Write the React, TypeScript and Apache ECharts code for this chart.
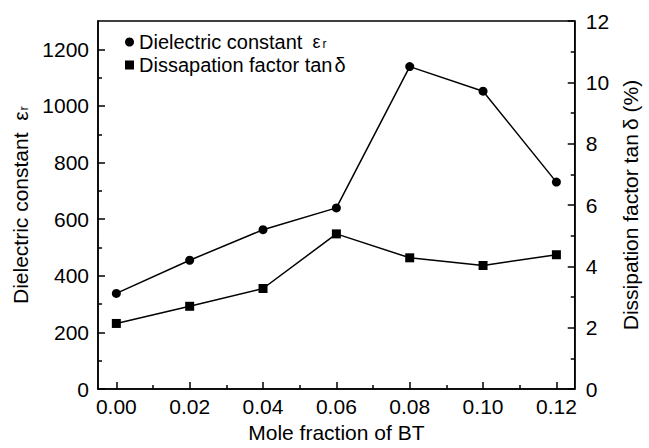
import React, { useEffect, useRef } from "react";
import * as echarts from "echarts";

const xValues = [0, 0.02, 0.04, 0.06, 0.08, 0.1, 0.12];
const dielectric = [338, 455, 563, 640, 1139, 1052, 731];
const dissipation = [2.14, 2.7, 3.28, 5.06, 4.28, 4.03, 4.38];
const xMajorTicks = [0, 0.02, 0.04, 0.06, 0.08, 0.1, 0.12];
const xMinorTicks = [0.01, 0.03, 0.05, 0.07, 0.09, 0.11];
const leftMajorTicks = [0, 200, 400, 600, 800, 1000, 1200];
const leftMinorTicks = [100, 300, 500, 700, 900, 1100];

const FONT = "Liberation Sans";
const FS = 21;

export default function App() {
  const ref = useRef<HTMLDivElement>(null);
  useEffect(() => {
    if (!ref.current) return;
    const chart = echarts.init(ref.current, null, { renderer: "svg" });
    const tickStyle = { color: "#000", width: 1.5 };
    const lineStyle = { color: "#000", width: 1.5 };
    const baseLabel = { color: "#000", fontFamily: FONT, fontSize: FS };
    chart.setOption({
      animation: false,
      backgroundColor: "#fff",
      grid: {
        left: 98,
        right: 63,
        top: 21,
        bottom: 57,
        show: true,
        borderColor: "#000",
        borderWidth: 1.5,
        backgroundColor: "transparent",
      },
      legend: {
        orient: "vertical",
        left: 120,
        top: 27,
        itemWidth: 9,
        itemHeight: 9,
        itemGap: 3,
        textStyle: {
          color: "#000",
          fontFamily: FONT,
          fontSize: 20,
          rich: {
            t: { fontFamily: FONT, fontSize: 20, color: "#000" },
            g: { fontFamily: FONT, fontSize: 18, color: "#000", padding: [0, 0, 0, 10] },
            d: { fontFamily: FONT, fontSize: 20, color: "#000", padding: [0, 0, 0, 2] },
            s: { fontFamily: FONT, fontSize: 12, color: "#000", padding: [4, 0, 0, 2] },
          },
        },
        formatter: (name: string) =>
          name.startsWith("Dielectric")
            ? "{t|Dielectric constant}{g|ε}{s|r}"
            : "{t|Dissapation factor tan}{d|δ}",
        data: [
          { name: "Dielectric constant εr", icon: "circle" },
          { name: "Dissapation factor tanδ", icon: "rect" },
        ],
      },
      xAxis: [
        {
          type: "value",
          min: -0.005,
          max: 0.125,
          name: "Mole fraction of BT",
          nameLocation: "middle",
          nameGap: 29,
          nameTextStyle: { ...baseLabel },
          axisLine: { show: true, onZero: false, lineStyle },
          axisTick: { show: true, inside: true, length: 7, lineStyle: tickStyle, customValues: xMajorTicks },
          axisLabel: {
            ...baseLabel,
            margin: 7,
            customValues: xMajorTicks,
            formatter: (v: number) => v.toFixed(2),
          },
          splitLine: { show: false },
        },
        {
          type: "value",
          min: -0.005,
          max: 0.125,
          position: "bottom",
          axisLine: { show: false, onZero: false },
          axisTick: { show: true, inside: true, length: 4, lineStyle: tickStyle, customValues: xMinorTicks },
          axisLabel: { show: false },
          splitLine: { show: false },
        },
      ],
      yAxis: [
        {
          type: "value",
          min: 0,
          max: 1300,
          position: "left",
          name: "{n|Dielectric constant  ε}{s|r}",
          nameLocation: "middle",
          nameRotate: 90,
          nameGap: 67,
          nameTextStyle: {
            ...baseLabel,
            rich: {
              n: { fontFamily: FONT, fontSize: FS, color: "#000" },
              s: { fontFamily: FONT, fontSize: 13, color: "#000", padding: [6, 0, 0, 1] },
            },
          },
          axisLine: { show: true, onZero: false, lineStyle },
          axisTick: { show: true, inside: true, length: 7, lineStyle: tickStyle, customValues: leftMajorTicks },
          axisLabel: {
            ...baseLabel,
            margin: 9,
            customValues: leftMajorTicks,
            formatter: (v: number) => String(v),
          },
          splitLine: { show: false },
        },
        {
          type: "value",
          min: 0,
          max: 1300,
          position: "left",
          axisLine: { show: false, onZero: false },
          axisTick: { show: true, inside: true, length: 4, lineStyle: tickStyle, customValues: leftMinorTicks },
          axisLabel: { show: false },
          splitLine: { show: false },
        },
        {
          type: "value",
          min: 0,
          max: 12,
          interval: 2,
          position: "right",
          name: "Dissipation factor tan\u2009δ (%)",
          nameLocation: "middle",
          nameRotate: 90,
          nameGap: 42,
          nameTextStyle: { ...baseLabel },
          axisLine: { show: true, onZero: false, lineStyle },
          axisTick: { show: true, inside: true, length: 7, lineStyle: tickStyle },
          minorTick: { show: true, splitNumber: 2, length: 4, lineStyle: tickStyle },
          axisLabel: { ...baseLabel, margin: 11, formatter: (v: number) => String(v) },
          splitLine: { show: false },
          minorSplitLine: { show: false },
        },
      ],
      series: [
        {
          name: "Dielectric constant εr",
          type: "line",
          xAxisIndex: 0,
          yAxisIndex: 0,
          data: xValues.map((x, i) => [x, dielectric[i]]),
          symbol: "circle",
          symbolSize: 9,
          lineStyle: { color: "#000", width: 1.5 },
          itemStyle: { color: "#000" },
        },
        {
          name: "Dissapation factor tanδ",
          type: "line",
          xAxisIndex: 0,
          yAxisIndex: 2,
          data: xValues.map((x, i) => [x, dissipation[i]]),
          symbol: "rect",
          symbolSize: 9,
          lineStyle: { color: "#000", width: 1.5 },
          itemStyle: { color: "#000" },
        },
      ],
    });
    return () => chart.dispose();
  }, []);
  return (
    <div
      ref={ref}
      style={{ position: "fixed", left: 0, top: 0, width: 649, height: 448, background: "#fff" }}
    />
  );
}
